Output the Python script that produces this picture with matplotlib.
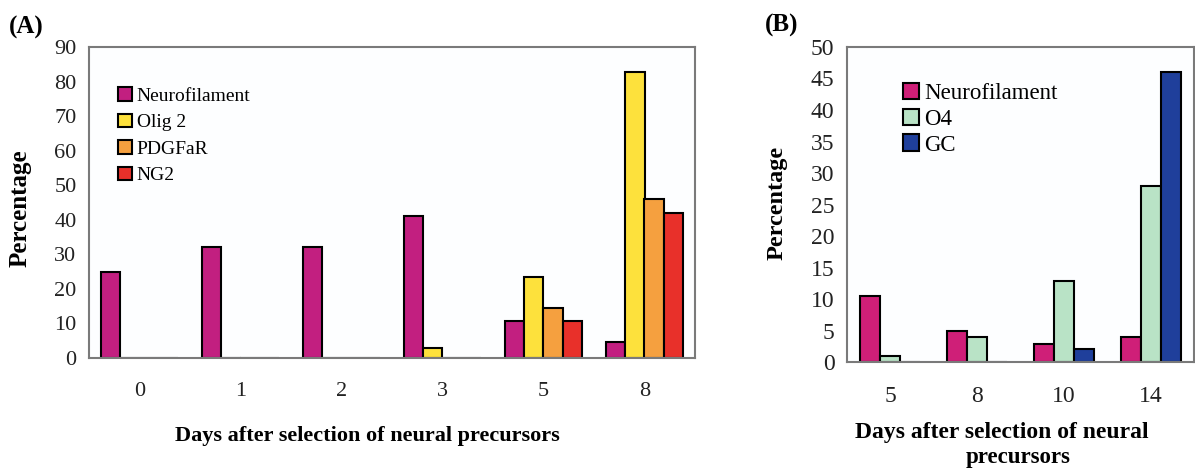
import matplotlib
matplotlib.use("Agg")
import matplotlib.pyplot as plt
import numpy as np

# Panel A data
days_a = ["0", "1", "2", "3", "5", "8"]
series_a = ["Neurofilament", "Olig 2", "PDGFaR", "NG2"]
neurofilament_a = [25, 32, 32, 41, 10.7, 4.7]
olig2_a = [0, 0, 0, 3, 23.3, 82.8]
pdgfar_a = [0, 0, 0, 0, 14.4, 45.9]
ng2_a = [0, 0, 0, 0, 10.7, 41.9]
colors_a = ["#c21f80", "#fde13c", "#f5a03f", "#e8302a"]

# Panel B data
days_b = ["5", "8", "10", "14"]
series_b = ["Neurofilament", "O4", "GC"]
neurofilament_b = [10.5, 5.0, 2.9, 3.9]
o4_b = [1.0, 3.9, 12.9, 28.0]
gc_b = [0, 0, 2.1, 46.1]
colors_b = ["#cf1f78", "#b9e3c6", "#1f3f9b"]

plt.rcParams['font.family'] = ['Liberation Serif', 'DejaVu Serif']

W, H = 1195, 469
fig = plt.figure(figsize=(W / 100, H / 100), dpi=100)
fig.patch.set_facecolor("white")


def px_axes(l, t, r, b):
    return fig.add_axes([l / W, 1 - b / H, (r - l) / W, (b - t) / H])


def style(ax, size):
    for s in ax.spines.values():
        s.set_color("#7a7a7a")
        s.set_linewidth(1.5)
    ax.tick_params(length=0, labelsize=size, colors="#222222")
    ax.tick_params(axis='y', pad=9)
    ax.tick_params(axis='x', pad=17)
    ax.set_facecolor("#fdfeff")


# ---- Panel A ----
axA = px_axes(89, 47, 695, 358)
vals_a = [neurofilament_a, olig2_a, pdgfar_a, ng2_a]
x = np.arange(len(days_a))
w = 0.19
for i, (v, c, lab) in enumerate(zip(vals_a, colors_a, series_a)):
    axA.bar(x + (i - 1.5) * w, v, w, color=c, edgecolor="black", linewidth=1.5, label=lab)
axA.set_xlim(-0.5, len(days_a) - 0.5)
axA.set_ylim(0, 90)
axA.set_yticks(range(0, 91, 10))
axA.set_xticks(x)
axA.set_xticklabels(days_a)
style(axA, 16)
axA.legend(loc="upper left", bbox_to_anchor=(0.048, 0.87), frameon=False,
           fontsize=14, handlelength=0.7, handleheight=0.7, handletextpad=0.25,
           labelspacing=0.45, borderpad=0, borderaxespad=0)
fig.text(20 / W, 1 - 208 / H, "Percentage", rotation=90, ha="center", va="center",
         fontsize=18, fontweight="bold")
fig.text(367 / W, 1 - 436 / H, "Days after selection of neural precursors",
         ha="center", va="center", fontsize=16, fontweight="bold")
fig.text(9 / W, 1 - 27 / H, "(A)", ha="left", va="center", fontsize=18, fontweight="bold")

# ---- Panel B ----
axB = px_axes(847, 47, 1194, 362)
vals_b = [neurofilament_b, o4_b, gc_b]
xb = np.arange(len(days_b))
wb = 0.23
for i, (v, c, lab) in enumerate(zip(vals_b, colors_b, series_b)):
    axB.bar(xb + (i - 1) * wb, v, wb, color=c, edgecolor="black", linewidth=1.5, label=lab)
axB.set_xlim(-0.5, len(days_b) - 0.5)
axB.set_ylim(0, 50)
axB.set_yticks(range(0, 51, 5))
axB.set_xticks(xb)
axB.set_xticklabels(days_b)
style(axB, 17)
axB.legend(loc="upper left", bbox_to_anchor=(0.16, 0.885), frameon=False,
           fontsize=16.5, handlelength=0.7, handleheight=0.7, handletextpad=0.25,
           labelspacing=0.2, borderpad=0, borderaxespad=0)
fig.text(777 / W, 1 - 203 / H, "Percentage", rotation=90, ha="center", va="center",
         fontsize=17.5, fontweight="bold")
fig.text(1002 / W, 1 - 432 / H, "Days after selection of neural",
         ha="center", va="center", fontsize=17, fontweight="bold")
fig.text(1018 / W, 1 - 457 / H, "precursors",
         ha="center", va="center", fontsize=16.5, fontweight="bold")
fig.text(765 / W, 1 - 25 / H, "(B)", ha="left", va="center", fontsize=18, fontweight="bold")

fig.savefig("out.png", dpi=100)
